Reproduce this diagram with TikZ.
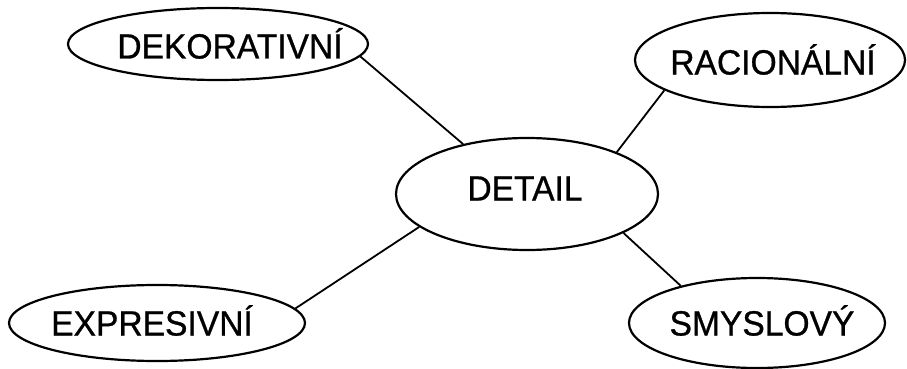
\documentclass[tikz,border=0pt]{standalone}
\usepackage{fontspec}
\setmainfont{Liberation Sans}[FakeStretch=0.96,FakeBold=0.8]
\usetikzlibrary{shapes.geometric}
\begin{document}
\begin{tikzpicture}[x=1pt,y=-1pt,
  oval/.style n args={2}{ellipse, draw=black, line width=2.2pt, fill=white,
    inner sep=0pt, minimum width=#1, minimum height=#2},
  txt/.style={font=\fontsize{35}{38}\selectfont, text height=25pt, text depth=0pt,
    inner sep=0pt, anchor=center},
  link/.style={draw=black, line width=1.8pt}]
\useasboundingbox[fill=white] (0,0) rectangle (907,369);
\node[oval={300pt}{72pt}, label={[txt,xshift=12pt,yshift=-2pt]center:DEKORATIVNÍ}] (dek) at (218,44) {};
\node[oval={270pt}{94pt}, label={[txt,xshift=3pt,yshift=-2pt]center:RACIONÁLNÍ}] (rac) at (770,60) {};
\node[oval={262pt}{112pt}, label={[txt,xshift=-2pt,yshift=6pt]center:DETAIL}] (det) at (527,194) {};
\node[oval={296pt}{76pt}, label={[txt,xshift=-5pt]center:EXPRESIVNÍ}] (exp) at (157,323) {};
\node[oval={256pt}{90pt}, label={[txt,xshift=5pt]center:SMYSLOVÝ}] (smy) at (757,323) {};
\draw[link] (dek.-5) -- (det.142);
\draw[link] (rac.196) -- (det.25);
\draw[link] (exp.6) -- (det.197);
\draw[link] (smy.154) -- (det.-22);
\end{tikzpicture}
\end{document}
